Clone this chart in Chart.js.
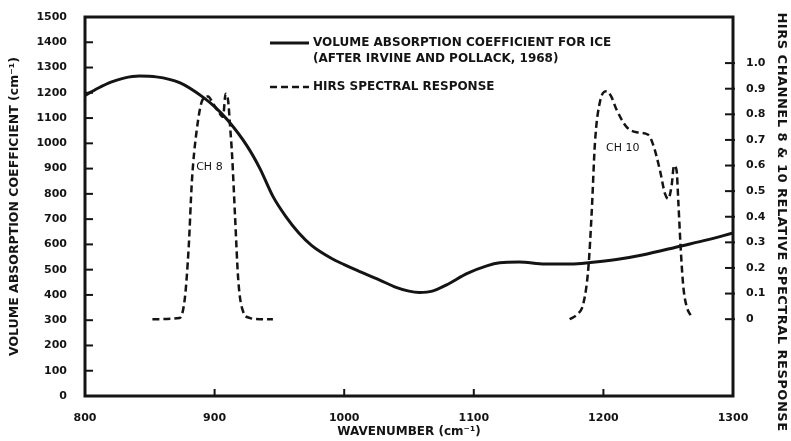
<!DOCTYPE html>
<html>
<head>
<meta charset="utf-8">
<script src="https://cdn.jsdelivr.net/npm/chart.js@4.4.1/dist/chart.umd.min.js"></script>
<style>
  html, body { margin: 0; padding: 0; background: #fff; }
  canvas { display: block; }
</style>
</head>
<body>
<canvas id="iceChart" width="791" height="441"></canvas>
<script>
// ice absorption coefficient (left axis, cm-1)
var iceWavenumber = [800, 810, 820, 830, 842, 855, 873, 891, 900, 910, 925, 935, 945, 955, 965, 975, 990, 1000, 1010, 1027, 1040, 1050, 1058, 1068, 1079, 1095, 1110, 1120, 1135, 1155, 1175, 1190, 1210, 1230, 1260, 1280, 1300];
var iceCoeff      = [1190, 1218, 1242, 1258, 1266, 1263, 1240, 1183, 1145, 1092, 990, 900, 790, 710, 645, 595, 545, 520, 497, 460, 430, 415, 410, 415, 440, 485, 515, 527, 530, 522, 522, 528, 540, 558, 594, 618, 645];

// HIRS channel 8 relative response (right axis)
var ch8Wavenumber = [852, 873, 877, 880, 882.5, 886, 891, 895, 899, 903, 906.5, 908.5, 910.5, 912, 913.5, 915.7, 918.3, 922, 927, 935, 945];
var ch8Response   = [0, 0.005, 0.08, 0.28, 0.54, 0.73, 0.86, 0.87, 0.84, 0.81, 0.79, 0.88, 0.85, 0.75, 0.64, 0.41, 0.15, 0.03, 0.005, 0, 0];

// HIRS channel 10 relative response (right axis)
var ch10Wavenumber = [1174, 1180, 1184.5, 1188.4, 1191, 1193.5, 1197.4, 1202.5, 1206, 1210, 1218, 1225.6, 1234.6, 1238.5, 1243.7, 1247.5, 1250, 1252.6, 1254.5, 1256.5, 1257.8, 1259.6, 1261.6, 1264.2, 1268];
var ch10Response   = [0, 0.02, 0.06, 0.2, 0.42, 0.69, 0.85, 0.89, 0.87, 0.82, 0.75, 0.73, 0.72, 0.68, 0.58, 0.49, 0.47, 0.52, 0.6, 0.58, 0.46, 0.28, 0.13, 0.05, 0.01];

// right axis tick labels
var responseTicks = [0, 0.1, 0.2, 0.3, 0.4, 0.5, 0.6, 0.7, 0.8, 0.9, 1.0];

// channel labels, placed in data coords (wavenumber, left axis)
var chLabels = ["CH 8", "CH 10"];
var chLabelX = [896, 1215];
var chLabelY = [905, 980];

var legendLines = ["VOLUME ABSORPTION COEFFICIENT FOR ICE", "(AFTER IRVINE AND POLLACK, 1968)"];
var legendDashed = "HIRS SPECTRAL RESPONSE";

var INK = "#141414";
var BOLD = "bold 12px 'DejaVu Sans'";
var DASH = [7, 4];

function toPoints(xs, ys) {
    return xs.map(function(x, i) { return { x: x, y: ys[i] }; });
}

function seg(ctx, x1, y1, x2, y2) {
    ctx.beginPath();
    ctx.moveTo(x1, y1);
    ctx.lineTo(x2, y2);
    ctx.stroke();
}

// frame, inward ticks, legend, channel labels and right title
var decorPlugin = {
    id: "decor",
    afterDraw: function(chart) {
        var ctx = chart.ctx, a = chart.chartArea;
        var sx = chart.scales.x, sy = chart.scales.y, sy2 = chart.scales.y2;
        ctx.save();
        ctx.strokeStyle = INK;
        ctx.fillStyle = INK;
        ctx.lineWidth = 3;
        ctx.strokeRect(a.left, a.top, a.right - a.left, a.bottom - a.top);

        ctx.lineWidth = 2;
        sy.ticks.forEach(function(t) {
            var py = sy.getPixelForValue(t.value);
            seg(ctx, a.left - 1, py, a.left + 8, py);
        });
        sy2.ticks.forEach(function(t) {
            var py = sy2.getPixelForValue(t.value);
            seg(ctx, a.right - 8, py, a.right + 2, py);
        });
        sx.ticks.forEach(function(t) {
            var px = sx.getPixelForValue(t.value);
            seg(ctx, px, a.bottom + 1, px, a.bottom - 7);
        });

        // legend
        ctx.lineWidth = 3;
        seg(ctx, 270, 43, 309, 43);
        ctx.lineWidth = 2.5;
        ctx.setLineDash(DASH);
        seg(ctx, 270, 87, 309, 87);
        ctx.setLineDash([]);
        ctx.font = BOLD;
        ctx.textAlign = "left";
        ctx.textBaseline = "middle";
        ctx.fillText(legendLines[0], 313, 43);
        ctx.fillText(legendLines[1], 313, 59);
        ctx.fillText(legendDashed, 313, 87);

        // channel labels
        ctx.font = "11px 'DejaVu Sans'";
        ctx.textAlign = "center";
        chLabels.forEach(function(txt, i) {
            ctx.fillText(txt, sx.getPixelForValue(chLabelX[i]), sy.getPixelForValue(chLabelY[i]));
        });

        // right axis title, reads top to bottom
        ctx.translate(781, 222);
        ctx.rotate(Math.PI / 2);
        ctx.font = "bold 13px 'DejaVu Sans'";
        ctx.letterSpacing = "0.5px";
        ctx.fillText("HIRS CHANNEL 8 & 10 RELATIVE SPECTRAL RESPONSE", 0, 0);
        ctx.restore();
    }
};

var tickFont = { family: "DejaVu Sans", size: 11, weight: "bold" };
var titleFont = { family: "DejaVu Sans", size: 12.5, weight: "bold" };

function plain(v) { return String(v); }

new Chart(document.getElementById("iceChart").getContext("2d"), {
    type: "line",
    data: {
        datasets: [
            { label: "ice", data: toPoints(iceWavenumber, iceCoeff), yAxisID: "y", borderColor: INK, borderWidth: 3, pointRadius: 0, cubicInterpolationMode: "monotone", fill: false },
            { label: "ch8", data: toPoints(ch8Wavenumber, ch8Response), yAxisID: "y2", borderColor: INK, borderWidth: 2.5, borderDash: DASH, pointRadius: 0, cubicInterpolationMode: "monotone", fill: false },
            { label: "ch10", data: toPoints(ch10Wavenumber, ch10Response), yAxisID: "y2", borderColor: INK, borderWidth: 2.5, borderDash: DASH, pointRadius: 0, cubicInterpolationMode: "monotone", fill: false }
        ]
    },
    options: {
        responsive: false,
        animation: false,
        layout: { padding: { top: 17, left: 0, right: 0, bottom: 0 } },
        plugins: { legend: { display: false }, tooltip: { enabled: false } },
        scales: {
            x: {
                type: "linear", min: 800, max: 1300,
                grid: { display: false }, border: { display: false },
                ticks: { stepSize: 100, padding: 8, color: INK, font: tickFont, callback: plain },
                title: { display: true, text: "WAVENUMBER (cm⁻¹)", color: INK, font: { family: "DejaVu Sans", size: 12, weight: "bold" }, padding: { top: 0, bottom: 2 } },
                afterFit: function(s) { s.height = 45; }
            },
            y: {
                position: "left", min: 0, max: 1500,
                grid: { display: false }, border: { display: false },
                ticks: { stepSize: 100, padding: 10, color: INK, font: tickFont, callback: plain },
                title: { display: true, text: "VOLUME ABSORPTION COEFFICIENT (cm⁻¹)", color: INK, font: titleFont, padding: { top: 7, bottom: 0 } },
                afterFit: function(s) { s.width = 85; }
            },
            y2: {
                position: "right", min: -0.3, max: 1.18,
                grid: { display: false }, border: { display: false },
                afterBuildTicks: function(s) { s.ticks = responseTicks.map(function(v) { return { value: v }; }); },
                ticks: {
                    padding: 5, color: INK, font: tickFont,
                    callback: function(v) { return v === 0 ? "0" : v.toFixed(1); }
                },
                afterFit: function(s) { s.width = 58; }
            }
        }
    },
    plugins: [decorPlugin]
});
</script>
</body>
</html>
